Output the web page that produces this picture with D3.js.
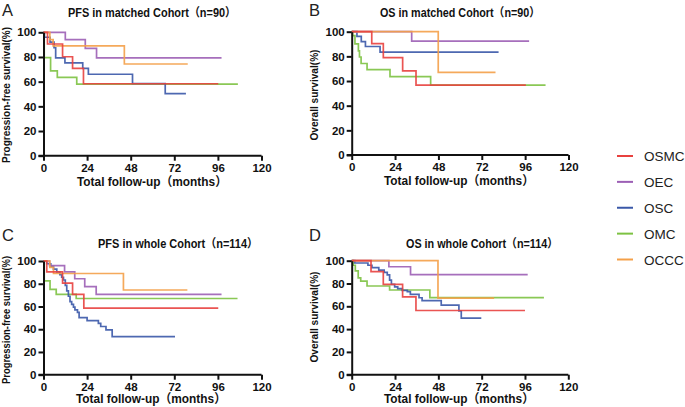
<!DOCTYPE html>
<html><head><meta charset="utf-8">
<script src="https://cdn.jsdelivr.net/npm/d3@7"></script>
<style>
body{margin:0;background:#fff;}
svg{display:block;font-family:Arial,"Liberation Sans","Noto Sans CJK SC",sans-serif;}
</style></head>
<body><svg id="chart" width="685" height="407"></svg>
<script>
// ---- data: [month, survival %] step points (last point = end of follow-up) ----
const groups = ["OSMC","OEC","OSC","OMC","OCCC"];
const colors = ["#e8413f","#9c5fb5","#3a58a8","#7dc243","#f4a049"];
const xTicks = [0,24,48,72,96,120];
const yTicks = [0,20,40,60,80,100];

// A: PFS in matched cohort
const pfsMatchedOSMC = [[0,100],[2.2,90.5],[10.5,80.2],[16,70.8],[22,58.3],[96.2,58.3]];
const pfsMatchedOEC  = [[0,100],[12,94],[23,87],[29.2,79.3],[98,79.3]];
const pfsMatchedOSC  = [[0,100],[0.5,96],[3.6,92],[5.8,87.5],[6.7,79.2],[11.8,75.2],[21.6,70.8],[24.7,66],[49,58.5],[67,50.3],[78.4,50.3]];
const pfsMatchedOMC  = [[0,100],[0.4,79.5],[3.9,68.8],[7.6,63.4],[18.3,58],[107,58]];
const pfsMatchedOCCC = [[0,100],[3.5,94],[5.3,89],[44.5,74.3],[79.4,74.3]];

// B: OS in matched cohort
const osMatchedOSMC = [[0,100],[11.1,90.3],[17.5,79],[28.2,68.2],[35.6,56.6],[96.4,56.6]];
const osMatchedOEC  = [[0,100],[33.2,92.4],[98.2,92.4]];
const osMatchedOSC  = [[0,100],[2.9,96.2],[5.3,92],[7.6,88],[15.7,83.4],[81.3,83.4]];
const osMatchedOMC  = [[0,100],[0.5,96.8],[1.8,90.2],[3.7,84.5],[4.3,79.5],[5.2,74.2],[8.5,69.3],[21.2,63.6],[43.7,56.6],[107.3,56.6]];
const osMatchedOCCC = [[0,100],[47.9,67],[79.6,67]];

// C: PFS in whole cohort
const pfsWholeOSMC = [[0,100],[1.8,90.5],[10.5,80.5],[16,70.6],[22.2,58.5],[96.2,58.5]];
const pfsWholeOEC  = [[0,100],[3.3,95.9],[11.6,90.5],[17.2,84.4],[22.7,77.4],[29,70.7],[98,70.7]];
const pfsWholeOSC  = [[0,100],[1.8,97.6],[4,95.2],[5.5,92.9],[7.3,90.5],[9,88.1],[10,85.7],[11,83.3],[12,78.6],[12.8,73.8],[13.7,69],[14.6,64.3],[15.5,61.9],[16.5,59.5],[17.3,57.1],[18.7,54.8],[19.6,50.2],[24,47.6],[30.2,45.2],[31.5,42.4],[34.4,39.5],[37.8,33.5],[72.4,33.5]];
const pfsWholeOMC  = [[0,100],[0.4,82.5],[3.6,75],[7,70.7],[18,67],[106.8,67]];
const pfsWholeOCCC = [[0,100],[3.5,94.4],[5.5,89],[44,74.5],[79.2,74.5]];

// D: OS in whole cohort
const osWholeOSMC = [[0,100],[10.7,90.5],[17.5,79.3],[28.2,68.2],[35.6,56.3],[96,56.3]];
const osWholeOEC  = [[0,100],[20.6,94.7],[32.6,87.8],[97.5,87.8]];
const osWholeOSC  = [[0,100],[1.7,98],[9,96],[11.2,93.9],[15,91.8],[18,89.8],[19.7,87.5],[21,83],[22,79.3],[23.8,77],[25.5,75.5],[28,74],[30.8,72.8],[32.5,70.5],[37.3,67.5],[39,65],[49.6,61],[59.4,56],[60.7,49.6],[71.8,49.6]];
const osWholeOMC  = [[0,100],[0.8,96],[2,91],[3.6,85],[5,82],[8.5,77.8],[21,74.3],[43.3,67.6],[106.5,67.6]];
const osWholeOCCC = [[0,100],[47.8,67.2],[78.9,67.2]];

const panels = [
  {letter:"A", title:"PFS in matched Cohort（n=90）", ylab:"Progression-free survival(%)",
   series:[pfsMatchedOSMC,pfsMatchedOEC,pfsMatchedOSC,pfsMatchedOMC,pfsMatchedOCCC]},
  {letter:"B", title:"OS in matched Cohort（n=90）", ylab:"Overall survival(%)",
   series:[osMatchedOSMC,osMatchedOEC,osMatchedOSC,osMatchedOMC,osMatchedOCCC]},
  {letter:"C", title:"PFS in whole Cohort（n=114）", ylab:"Progression-free survival(%)",
   series:[pfsWholeOSMC,pfsWholeOEC,pfsWholeOSC,pfsWholeOMC,pfsWholeOCCC]},
  {letter:"D", title:"OS in whole Cohort（n=114）", ylab:"Overall survival(%)",
   series:[osWholeOSMC,osWholeOEC,osWholeOSC,osWholeOMC,osWholeOCCC]}
];

// ---- layout ----
const layout = [
  {x0:43.5, x1:261.5, yT:32.3, yB:155.7, letX:2, letY:15.5, titleX:152, titleY:17, titleW:168, ylabX:10, ylabY:95, ylabW:136, xlabX:152, xlabY:186},
  {x0:351.7, x1:568.5, yT:31.7, yB:155, letX:309, letY:15.5, titleX:460, titleY:17, titleW:160, ylabX:318, ylabY:95, ylabW:91, xlabX:459, xlabY:185},
  {x0:43.5, x1:261.5, yT:261, yB:374.7, letX:2, letY:240.5, titleX:178, titleY:248, titleW:160, ylabX:10, ylabY:320, ylabW:128, xlabX:151, xlabY:403},
  {x0:351.7, x1:568.3, yT:260.7, yB:374.7, letX:309, letY:240.5, titleX:482, titleY:248, titleW:152, ylabX:318, ylabY:317, ylabW:91, xlabX:459, xlabY:403}
];

const svg = d3.select("#chart");
const drawOrder = [3,2,1,4,0];

panels.forEach((p,i)=>{
  const L = layout[i];
  const x = d3.scaleLinear().domain([0,120]).range([L.x0,L.x1]);
  const y = d3.scaleLinear().domain([0,100]).range([L.yB,L.yT]);
  const g = svg.append("g");

  g.append("text").attr("x",L.letX).attr("y",L.letY).attr("font-size",16.5)
    .attr("fill","#222").text(p.letter);
  g.append("text").attr("x",L.titleX).attr("y",L.titleY).attr("text-anchor","middle")
    .attr("font-size",12).attr("font-weight","bold").attr("fill","#111")
    .attr("textLength",L.titleW).attr("lengthAdjust","spacingAndGlyphs").text(p.title);

  const line = d3.line().x(d=>x(d[0])).y(d=>y(d[1])).curve(d3.curveStepAfter);
  drawOrder.forEach(k=>{
    g.append("path").datum(p.series[k]).attr("d",line).attr("fill","none")
      .attr("stroke",colors[k]).attr("stroke-width",1.7).attr("stroke-opacity",0.9);
  });

  const xa = g.append("g").attr("transform",`translate(0,${L.yB})`)
    .call(d3.axisBottom(x).tickValues(xTicks).tickSize(5).tickPadding(3).tickSizeOuter(0));
  const ya = g.append("g").attr("transform",`translate(${L.x0},0)`)
    .call(d3.axisLeft(y).tickValues(yTicks).tickSize(5).tickPadding(2).tickSizeOuter(0));
  [xa,ya].forEach(a=>{
    a.select(".domain").attr("stroke","#111").attr("stroke-width",2);
    a.selectAll(".tick line").attr("stroke","#111").attr("stroke-width",2);
    a.selectAll(".tick text").attr("fill","#111").attr("font-size",11.5).attr("font-weight","bold")
      .attr("font-family","Arial,'Liberation Sans',sans-serif");
  });
  xa.select(".domain").attr("d",`M${L.x0-5},0H${L.x1}`);

  g.append("text").attr("x",L.xlabX).attr("y",L.xlabY).attr("text-anchor","middle")
    .attr("font-size",12.5).attr("font-weight","bold").attr("fill","#111")
    .attr("textLength",150).attr("lengthAdjust","spacingAndGlyphs").text("Total follow-up（months）");
  g.append("text").attr("transform",`translate(${L.ylabX},${L.ylabY}) rotate(-90)`)
    .attr("text-anchor","middle").attr("font-size",11).attr("font-weight","bold").attr("fill","#111")
    .attr("textLength",L.ylabW).attr("lengthAdjust","spacingAndGlyphs").text(p.ylab);
});

// ---- legend ----
const lg = svg.append("g");
const legY = d3.scaleLinear().domain([0,4]).range([156,259.5]);
groups.forEach((name,k)=>{
  lg.append("line").attr("x1",617).attr("x2",633).attr("y1",legY(k)).attr("y2",legY(k))
    .attr("stroke",colors[k]).attr("stroke-width",2);
  lg.append("text").attr("x",644).attr("y",legY(k)+5).attr("font-size",13.5).attr("fill","#222").text(name);
});
</script></body></html>
